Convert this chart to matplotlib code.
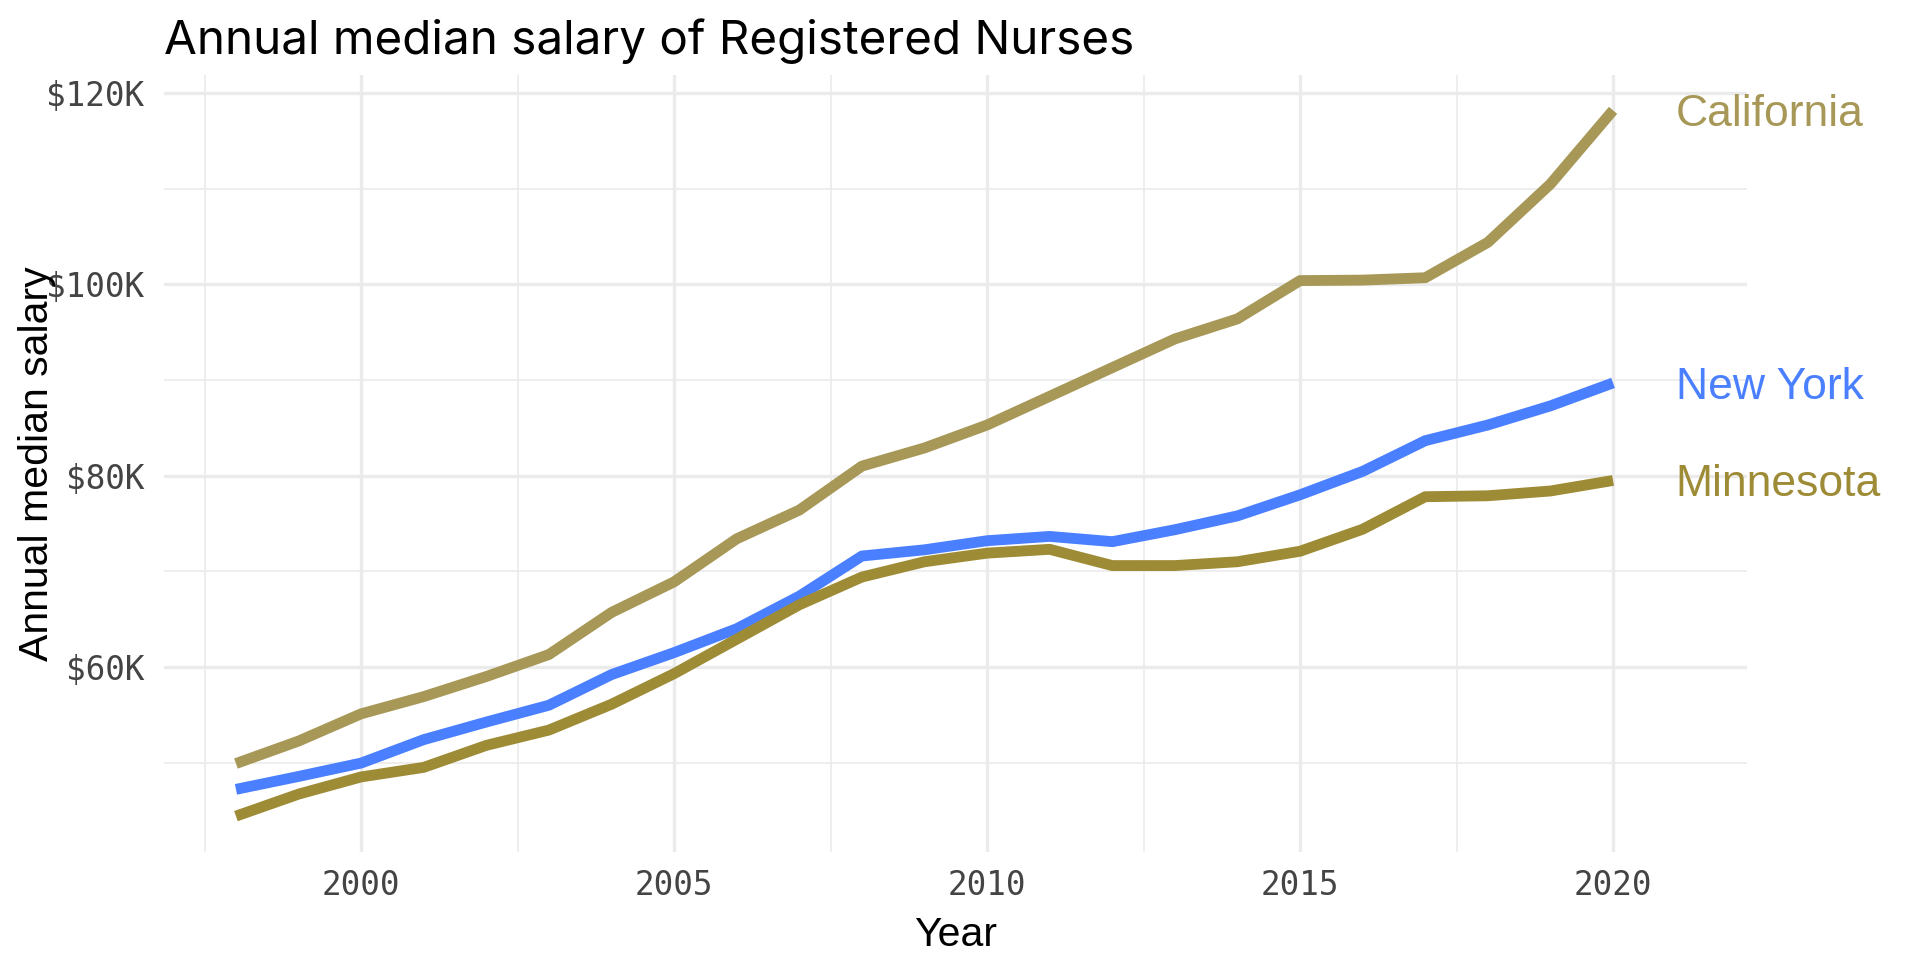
import matplotlib
matplotlib.use("Agg")
import matplotlib.pyplot as plt
from matplotlib.ticker import FixedLocator, FuncFormatter
from matplotlib.transforms import offset_copy

# annual median salary of registered nurses, in thousands of dollars
years = list(range(1998, 2021))
california = [49.9, 52.25, 55.1, 56.9, 59.0, 61.3, 65.7, 68.9, 73.4, 76.4, 81.0, 82.9,
              85.3, 88.3, 91.3, 94.3, 96.4, 100.4, 100.45, 100.7, 104.4, 110.5, 118.2]
new_york = [47.2, 48.55, 49.95, 52.4, 54.24, 56.0, 59.2, 61.5, 64.0, 67.4, 71.6, 72.25,
            73.2, 73.65, 73.1, 74.35, 75.8, 78.0, 80.45, 83.66, 85.3, 87.3, 89.7]
minnesota = [44.4, 46.7, 48.5, 49.5, 51.8, 53.4, 56.1, 59.3, 62.9, 66.5, 69.4, 71.0,
             71.9, 72.3, 70.6, 70.6, 71.0, 72.1, 74.4, 77.8, 77.9, 78.4, 79.5]

states = ["California", "New York", "Minnesota"]
series = [california, new_york, minnesota]
colors = ["#A89858", "#4A80FF", "#9E8B36"]

x_major = [2000, 2005, 2010, 2015, 2020]
x_minor = [1997.5, 2002.5, 2007.5, 2012.5, 2017.5]
y_major = [60, 80, 100, 120]
y_minor = [50, 70, 90, 110]

fig = plt.figure(figsize=(19.2, 9.6), dpi=100)
ax = fig.add_axes([0.0854, 0.1125, 0.8245, 0.8094])

# labels sit a bit lower than matplotlib's "center"
lab_tr = offset_copy(ax.transData, fig=fig, x=0, y=-3, units="points")

for name, vals, col in zip(states, series, colors):
    ax.plot(years, vals, color=col, lw=7.8, solid_capstyle="butt",
            solid_joinstyle="round", zorder=3)
    ax.text(years[-1] + 1, vals[-1], name, color=col, fontsize=32,
            family="Liberation Sans", ha="left", va="center", clip_on=False,
            transform=lab_tr)

ax.set_xlim(1996.85, 2022.14)
ax.set_ylim(40.65, 121.9)

ax.xaxis.set_major_locator(FixedLocator(x_major))
ax.xaxis.set_minor_locator(FixedLocator(x_minor))
ax.yaxis.set_major_locator(FixedLocator(y_major))
ax.yaxis.set_minor_locator(FixedLocator(y_minor))
ax.yaxis.set_major_formatter(FuncFormatter(lambda v, p: "${:.0f}K".format(v)))

ax.grid(which="major", color="#EBEBEB", lw=2.4)
ax.grid(which="minor", color="#EBEBEB", lw=1.2)
ax.set_axisbelow(True)
for s in ax.spines.values():
    s.set_visible(False)

ax.tick_params(which="both", length=0)
ax.tick_params(axis="x", pad=12, labelsize=23.5, labelcolor="#444444")
ax.tick_params(axis="y", pad=14, labelsize=23.5, labelcolor="#444444")
for lab in ax.get_xticklabels() + ax.get_yticklabels():
    lab.set_family("DejaVu Sans Mono")

ax.set_xlabel("Year", fontsize=29.5, family="Liberation Sans", labelpad=10)
ax.set_ylabel("Annual median salary", fontsize=29.5, family="Liberation Sans", labelpad=8)
ax.yaxis.set_label_coords(-0.068, 0.5)

fig.text(164 / 1920, 1 - 54 / 960, "Annual median salary of Registered Nurses",
         fontsize=34.3, family="Inter", ha="left", va="baseline")

fig.savefig("out.png", dpi=100, facecolor="white")
